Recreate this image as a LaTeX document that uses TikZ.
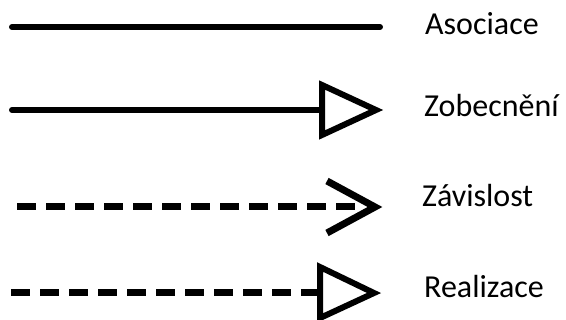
\documentclass[tikz,border=0pt]{standalone}
\usepackage{fontspec}
\setmainfont{Carlito}
\tikzset{
  lbl/.style={anchor=base west, inner sep=0pt, font=\fontsize{32}{36}\selectfont},
  solidline/.style={line width=6pt, line cap=round},
  dashline/.style={line width=7pt, dash pattern=on 19pt off 10pt},
  headstroke/.style={line width=6pt, line join=miter},
  chevron/.style={line width=7pt, line join=miter}
}
\begin{document}
\begin{tikzpicture}[x=1pt,y=-1pt]
\useasboundingbox (0,0) rectangle (566,320);
% Asociace
\coordinate (a1) at (12,27);
\coordinate (a2) at (380,27);
\draw[solidline] (a1) -- (a2);
\node[lbl] (ta) at (425,35) {Asociace};
% Zobecneni
\coordinate (z1) at (12,110);
\coordinate (z2) at (322,110);
\coordinate (zt) at (376,110);
\draw[solidline] (z1) -- (z2);
\draw[headstroke] (322,85) -- (zt) -- (322,135) -- cycle;
\node[lbl] (tz) at (424,117) {Zobecnění};
% Zavislost
\coordinate (d1) at (17,207);
\coordinate (d2) at (364,207);
\coordinate (dt) at (375,207);
\draw[dashline] (d1) -- (d2);
\draw[chevron] (327,181) -- (dt) -- (327,233);
\node[lbl] (td) at (422,207) {Závislost};
% Realizace
\coordinate (r1) at (11,293);
\coordinate (r2) at (320,293);
\coordinate (rt) at (374,293);
\draw[dashline] (r1) -- (r2);
\draw[headstroke] (320,267) -- (rt) -- (320,318) -- cycle;
\node[lbl] (tr) at (424,298) {Realizace};
\end{tikzpicture}
\end{document}
